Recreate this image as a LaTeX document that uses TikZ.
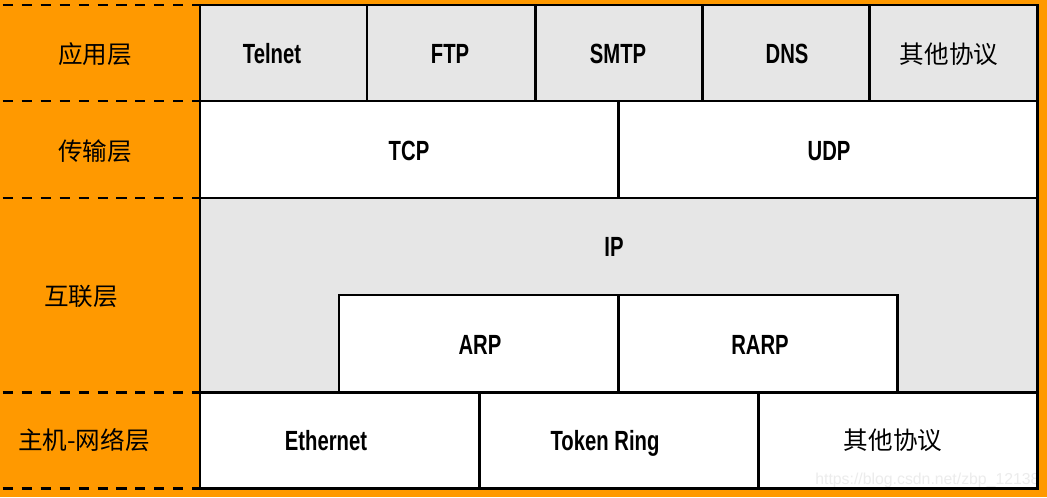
\documentclass[tikz,border=0pt]{standalone}
\usepackage{fontspec}
\setmainfont{Liberation Sans}
\newfontfamily\protofont[FakeStretch=0.73]{Liberation Sans}
\newfontfamily\cjk{Noto Sans CJK SC}
\definecolor{layerorange}{HTML}{FF9900}
\definecolor{cellgray}{HTML}{E6E6E6}
\begin{document}
\begin{tikzpicture}[x=0.02cm,y=-0.02cm,
    cellbox/.style={draw,line width=1.7pt},
    proto/.style={font=\fontsize{15.8}{18}\protofont\bfseries,text height=11.3pt,text depth=0pt},
    cjkproto/.style={font=\fontsize{14}{16}\selectfont\cjk},
    layername/.style={font=\fontsize{14}{16}\selectfont\cjk},
    layerline/.style={line width=1.7pt,dash pattern=on 5.7pt off 5.1pt,dash phase=-1.5pt}]
    % Background and bounding box
    \fill[layerorange] (0,0) rectangle (1047,497);
    \useasboundingbox (0,0) rectangle (1047,497);

    % Layer separators on the left
    \foreach \y in {5,101,198,392,488}
      \draw[layerline] (0,\y) -- (200,\y);

    % Layer names
    \node[layername] (app) at (95,54) {应用层};
    \node[layername] (trans) at (95,151) {传输层};
    \node[layername] (inet) at (81,296) {互联层};
    \node[layername] (host) at (84,440) {主机-网络层};

    % Application layer
    \fill[cellgray] (200,5) rectangle (1037,101);
    \draw[cellbox] (200,5) rectangle (367,101);
    \draw[cellbox] (367,5) rectangle (535,101);
    \draw[cellbox] (535,5) rectangle (702,101);
    \draw[cellbox] (702,5) rectangle (869,101);
    \draw[cellbox] (869,5) rectangle (1037,101);
    \node[proto] (telnet) at (272,54) {Telnet};
    \node[proto] (ftp) at (450,54) {FTP};
    \node[proto] (smtp) at (618,54) {SMTP};
    \node[proto] (dns) at (787,54) {DNS};
    \node[cjkproto] (appother) at (949,54) {其他协议};

    % Transport layer
    \fill[white] (200,101) rectangle (1037,198);
    \draw[cellbox] (200,101) rectangle (618,198);
    \draw[cellbox] (618,101) rectangle (1037,198);
    \node[proto] (tcp) at (409,151) {TCP};
    \node[proto] (udp) at (829,151) {UDP};

    % Internet layer
    \fill[cellgray] (200,198) rectangle (1037,392);
    \draw[cellbox] (200,198) rectangle (1037,392);
    \node[proto] (ip) at (614,247) {IP};
    \fill[white] (339,295) rectangle (897,392);
    \draw[cellbox] (339,295) rectangle (618,392);
    \draw[cellbox] (618,295) rectangle (897,392);
    \node[proto] (arp) at (480,345) {ARP};
    \node[proto] (rarp) at (760,345) {RARP};

    % Host-to-network layer
    \fill[white] (200,392) rectangle (1037,488);
    \node[font=\fontsize{9}{11}\selectfont,text=gray!15,anchor=base west,inner sep=0pt]
      (mark) at (815,484) {https://blog.csdn.net/zbp\_12138};
    \draw[cellbox] (200,392) rectangle (479,488);
    \draw[cellbox] (479,392) rectangle (758,488);
    \draw[cellbox] (758,392) rectangle (1037,488);
    \node[proto] (ether) at (326,441) {Ethernet};
    \node[proto] (token) at (605,441) {Token Ring};
    \node[cjkproto] (hostother) at (893,440) {其他协议};
\end{tikzpicture}
\end{document}
